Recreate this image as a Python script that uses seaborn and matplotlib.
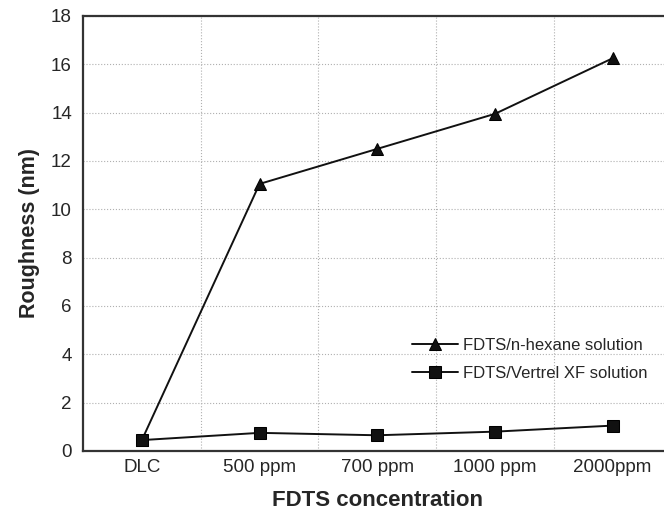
import matplotlib
matplotlib.use("Agg")
import matplotlib.pyplot as plt
import seaborn as sns
import pandas as pd
from matplotlib.ticker import FixedLocator

categories = ["DLC", "500 ppm", "700 ppm", "1000 ppm", "2000ppm"]
hexane = [0.45, 11.05, 12.5, 13.95, 16.25]
vertrel = [0.45, 0.75, 0.65, 0.8, 1.05]
series_names = ["FDTS/n-hexane solution", "FDTS/Vertrel XF solution"]
yticks = [0, 2, 4, 6, 8, 10, 12, 14, 16, 18]

sns.set_style("white")
plt.rcParams["font.family"] = ["Liberation Sans", "DejaVu Sans"]

df = pd.DataFrame({
    "pos": list(range(len(categories))) * 2,
    "value": hexane + vertrel,
    "series": [series_names[0]] * len(categories) + [series_names[1]] * len(categories),
})

fig = plt.figure(figsize=(6.64, 5.13), dpi=100)
ax = fig.add_axes([0.125, 0.1209, 0.8863, 0.848])

sns.lineplot(data=df, x="pos", y="value", hue="series", style="series",
             markers={series_names[0]: "^", series_names[1]: "s"},
             dashes=False, palette={series_names[0]: "#111111", series_names[1]: "#111111"},
             markersize=8, linewidth=1.4, markeredgecolor="black", ax=ax)

ax.set_xlim(-0.5, 4.5)
ax.set_ylim(0, 18)
ax.set_xticks(range(len(categories)))
ax.set_xticklabels(categories, fontsize=13.5)
ax.set_yticks(yticks)
ax.set_yticklabels([str(t) for t in yticks], fontsize=13.5)
ax.xaxis.set_minor_locator(FixedLocator([0.5, 1.5, 2.5, 3.5]))
ax.grid(False)
ax.grid(which="minor", axis="x", color="#b0b0b0", linestyle=":", linewidth=0.8)
ax.grid(which="major", axis="y", color="#b0b0b0", linestyle=":", linewidth=0.8)
ax.tick_params(axis="x", which="both", length=0, pad=6)
ax.tick_params(axis="y", which="both", length=0, pad=8)
for s in ax.spines.values():
    s.set_color("#333333")
    s.set_linewidth(1.6)
ax.spines["right"].set_visible(False)

ax.set_xlabel("FDTS concentration", fontsize=16, fontweight="bold", labelpad=10)
ax.set_ylabel("Roughness (nm)", fontsize=15.5, fontweight="bold", labelpad=8)

leg = ax.legend(loc="upper left", bbox_to_anchor=(412 / 664, 1 - 338 / 513),
                bbox_transform=fig.transFigure, frameon=False, borderpad=0,
                borderaxespad=0, fontsize=12, handlelength=2.75,
                labelspacing=0.75, handletextpad=0.3)

fig.savefig("out.png", dpi=100)
